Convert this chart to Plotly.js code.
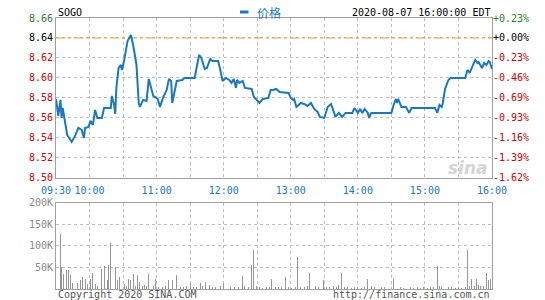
<!DOCTYPE html>
<html><head><meta charset="utf-8">
<script src="https://cdn.plot.ly/plotly-3.0.1.min.js"></script>
<style>html,body{margin:0;padding:0;background:#fff}#c{width:545px;height:300px}</style>
</head><body><div id="c"></div>
<script>
// ---- data (minutes since 09:30) ----
const symbol = "SOGO";
const stamp = "2020-08-07 16:00:00 EDT";
const prevClose = 8.64;
const priceMin = [0,2,4,5,6,10,14,17,20,23,25,26,29,31,33,35,37,41,43,49,50,52,53,54,56,58,59,61,64,67,69,72,74,75,78,81,83,87,91,93,96,99,101,103,104,106,108,113,115,124,126,128,130,133,135,138,140,145,147,149,152,155,157,159,161,162,164,167,169,175,177,179,182,185,188,190,192,194,197,200,208,210,212,213,215,219,222,225,228,231,234,236,240,243,246,248,250,253,256,259,265,267,270,272,274,276,279,280,282,290,300,302,304,305,306,309,313,316,318,339,341,343,345,346,348,351,353,366,368,370,375,377,378,381,383,385,387,388,390];
const priceVal = [8.579,8.562,8.578,8.560,8.570,8.543,8.536,8.542,8.550,8.548,8.540,8.550,8.551,8.557,8.553,8.568,8.560,8.560,8.570,8.570,8.582,8.573,8.564,8.590,8.610,8.613,8.608,8.618,8.637,8.643,8.633,8.613,8.575,8.571,8.578,8.577,8.599,8.582,8.579,8.571,8.581,8.588,8.599,8.597,8.575,8.588,8.597,8.598,8.600,8.600,8.613,8.623,8.620,8.609,8.610,8.619,8.617,8.617,8.608,8.597,8.600,8.598,8.595,8.599,8.590,8.598,8.595,8.597,8.590,8.589,8.581,8.579,8.575,8.579,8.580,8.580,8.588,8.588,8.589,8.586,8.585,8.580,8.578,8.579,8.571,8.575,8.574,8.572,8.575,8.569,8.566,8.561,8.560,8.571,8.574,8.568,8.561,8.565,8.561,8.565,8.565,8.570,8.565,8.569,8.565,8.569,8.565,8.560,8.565,8.565,8.565,8.573,8.579,8.575,8.579,8.571,8.571,8.565,8.570,8.570,8.565,8.573,8.571,8.575,8.589,8.598,8.600,8.600,8.608,8.605,8.618,8.615,8.616,8.610,8.615,8.613,8.617,8.616,8.609];
const volMin = [0,4,5,7,9,11,13,15,17,19,22,24,26,28,31,33,35,37,41,43,46,47,49,51,53,55,57,59,61,63,65,67,69,71,73,75,77,79,81,83,85,87,89,92,95,98,101,104,108,111,114,117,120,123,126,129,131,134,137,140,143,147,150,153,156,160,163,167,169,172,175,177,179,182,185,188,191,193,196,199,202,205,208,211,214,216,219,222,225,227,229,232,235,237,239,242,245,248,251,253,255,258,261,264,267,270,273,276,279,282,285,288,291,294,297,302,305,308,311,314,317,320,323,326,329,332,335,338,341,343,345,348,351,354,357,360,363,366,368,370,372,374,376,378,380,382,385,387,389,390];
const volVal = [85000,128000,50000,35000,45000,45000,33000,14000,27000,14000,20000,27000,22000,12000,23000,38000,12000,8000,47000,54000,20000,56000,107000,20000,50000,20000,27000,141000,12000,6000,22000,20000,35000,8000,33000,16000,6000,10000,8000,35000,10000,6000,22000,5000,4000,6000,20000,20000,33000,5000,4000,6000,15000,5000,4000,14000,6000,16000,10000,5000,4000,6000,14000,5000,4000,5000,5000,30000,8000,5000,55000,90000,8000,4000,3000,4000,5000,22000,5000,4000,5000,27000,4000,3000,5000,75000,5000,4000,6000,37000,12000,8000,4000,14000,20000,5000,4000,6000,5000,10000,37000,5000,4000,3000,5000,4000,3000,5000,22000,6000,4000,3000,5000,4000,3000,24000,5000,4000,3000,5000,4000,3000,4000,3000,4000,3000,4000,5000,54000,6000,4000,24000,5000,4000,3000,4000,3000,5000,90000,6000,22000,8000,24000,10000,8000,6000,38000,20000,22000,6000];
const priceTicks = [8.50,8.52,8.54,8.56,8.58,8.60,8.62,8.64,8.66];
const timeTicks = [0,30,60,90,120,150,180,210,240,270,300,330,360,390];
const timeLabels = ["09:30","10:00","","11:00","","12:00","","13:00","","14:00","","15:00","","16:00"];
const volTicks = [0,50000,100000,150000,200000];
const volLabels = ["","50K","100K","150K","200K"];

// ---- styling ----
const MONO = "DejaVu Sans Mono, monospace";
const RED = "#cc0000", GREEN = "#2e7d32", BLACK = "#000";
const BLUE = "#1a78c0";
function col(v){ return Math.abs(v-prevClose)<1e-9 ? BLACK : (v>prevClose ? GREEN : RED); }
const leftText = priceTicks.map(v => `<span style="color:${col(v)}">${v.toFixed(2)}</span>`);
const rightText = priceTicks.map(v => {
  const p = (v/prevClose-1)*100;
  const s = (p>=0?"+":"-") + Math.abs(p).toFixed(2) + "%";
  return `<span style="color:${col(v)}">${s}</span>`;
});
const grid = {showgrid:true, gridcolor:"#bdbdbd", griddash:"dot", gridwidth:1};
const frame = {showline:true, linecolor:"#a0a0a0", linewidth:1, mirror:true, zeroline:false};

const traces = [
  {x:[0,390], y:[prevClose,prevClose], xaxis:"x", yaxis:"y", mode:"lines",
   line:{color:"#f0a030", width:1, dash:"dashdot"}, hoverinfo:"skip", showlegend:false},
  {x:priceMin, y:priceVal, xaxis:"x", yaxis:"y", mode:"lines", name:"价格",
   line:{color:BLUE, width:2}, showlegend:false},
  {x:priceMin, y:priceVal, xaxis:"x", yaxis:"y3", mode:"lines", opacity:0,
   line:{width:0}, hoverinfo:"skip", showlegend:false},
  {type:"bar", x:volMin, y:volVal, xaxis:"x2", yaxis:"y2", width:0.8,
   marker:{color:"#969696", line:{width:0}}, showlegend:false}
];

const layout = {
  width:545, height:300,
  margin:{l:56, r:53, t:18, b:11},
  paper_bgcolor:"#fff", plot_bgcolor:"#fff",
  font:{family:MONO, size:10, color:"#000"},
  bargap:0,
  xaxis:Object.assign({range:[0,390], domain:[0,1], anchor:"y", tickmode:"array",
    tickvals:timeTicks, ticktext:timeLabels, ticks:"outside", ticklen:3, tickcolor:"rgba(0,0,0,0)",
    tickfont:{family:MONO, size:10, color:"#1a78c0"}, tickangle:0}, grid, frame),
  yaxis:Object.assign({range:[8.50,8.66], domain:[0.41,1], anchor:"x", tickmode:"array",
    tickvals:priceTicks, ticktext:leftText, ticks:"", tickfont:{family:MONO, size:10}}, grid, frame),
  yaxis3:{range:[8.50,8.66], overlaying:"y", side:"right", anchor:"x", tickmode:"array",
    tickvals:priceTicks, ticktext:rightText, ticks:"", showgrid:false, zeroline:false, showline:false,
    tickfont:{family:MONO, size:10}},
  xaxis2:Object.assign({range:[0,390], domain:[0,1], anchor:"y2", tickmode:"array",
    tickvals:timeTicks, showticklabels:false, ticks:""}, grid, frame),
  yaxis2:Object.assign({range:[0,200000], domain:[0,0.319], anchor:"x2", tickmode:"array",
    tickvals:volTicks, ticktext:volLabels, ticks:"", tickfont:{family:MONO, size:10, color:"#8a8a8a"}}, grid, frame),
  shapes:[
    {type:"rect", xref:"paper", yref:"paper", x0:(240-56)/436, x1:(248.5-56)/436,
     y0:(300-11-13.5)/271, y1:(300-11-10.5)/271, fillcolor:BLUE, line:{width:0}}
  ],
  annotations:[
    {xref:"paper", yref:"paper", x:0, y:(300-11-12)/271, xanchor:"left", yanchor:"middle",
     text:symbol, showarrow:false, font:{family:MONO, size:10, color:"#000"}},
    {xref:"paper", yref:"paper", x:(255-56)/436, y:(300-11-12)/271, xanchor:"left", yanchor:"middle",
     text:"价格", showarrow:false, font:{family:"Noto Sans CJK SC", size:12, color:BLUE}},
    {xref:"paper", yref:"paper", x:1, y:(300-11-12)/271, xanchor:"right", yanchor:"middle",
     text:stamp, showarrow:false, font:{family:MONO, size:10, color:"#000"}},
    {xref:"paper", yref:"paper", x:0, y:(300-11-294)/271, xanchor:"left", yanchor:"middle",
     text:"Copyright 2020 SINA.COM", showarrow:false, font:{family:MONO, size:10, color:"#555"}},
    {xref:"paper", yref:"paper", x:1, y:(300-11-294)/271, xanchor:"right", yanchor:"middle",
     text:"http://finance.sina.com.cn", showarrow:false, font:{family:MONO, size:10, color:"#555"}},
    {xref:"paper", yref:"paper", x:(490-56)/436, y:(300-11-168)/271, xanchor:"right", yanchor:"middle",
     text:"<b><i>sina</i></b>", showarrow:false, font:{family:"DejaVu Sans", size:17, color:"#d4d4d4"}}
  ]
};
Plotly.newPlot("c", traces, layout, {staticPlot:true, displayModeBar:false});
</script></body></html>
